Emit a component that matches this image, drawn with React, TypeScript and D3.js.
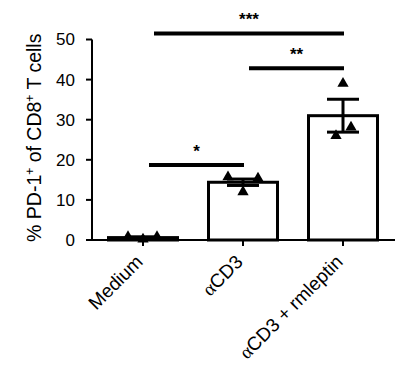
import React from "react";
import * as d3 from "d3";

const categories = ["Medium", "αCD3", "αCD3 + rmleptin"];
const means = [0.6, 14.4, 31.0];
const sems = [0.2, 0.8, 4.1];
const points = [
  [0.8, 0.2, 0.8],
  [15.7, 12.0, 15.4],
  [26.0, 39.0, 28.1],
];
const yTicks = [0, 10, 20, 30, 40, 50];
const brackets = [
  { from: 0, to: 1, y: 18.7, label: "*" },
  { from: 1, to: 2, y: 42.8, label: "**" },
  { from: 0, to: 2, y: 51.5, label: "***" },
];

const W = 408;
const H = 375;
const FONT = "'Liberation Sans', Arial, sans-serif";

export default function App() {
  const y = d3.scaleLinear().domain([0, 50]).range([240, 39.5]);
  const x = d3.scalePoint<number>().domain([0, 1, 2]).range([143, 343]);
  const axisX = 92;
  const axisRight = 395;
  const barW = 69;
  const capHalf = 16;
  const jitter = [
    [-15, 0, 14],
    [-15, 0, 15],
    [-7, 0, 8],
  ];
  const bracketOffsets: Record<string, [number, number]> = {
    "*": [6, 1],
    "**": [6, 1],
    "***": [11, 1],
  };
  const tri = d3.symbol().type(d3.symbolTriangle).size(55)();

  return (
    <svg
      width={W}
      height={H}
      style={{ position: "absolute", left: 0, top: 0, background: "#fff" }}
      fontFamily={FONT}
    >
      {/* bars */}
      {means.map((m, i) => (
        <rect
          key={"b" + i}
          x={x(i)! - barW / 2}
          y={y(m)}
          width={barW}
          height={y(0) - y(m)}
          fill="#fff"
          stroke="#000"
          strokeWidth={3}
        />
      ))}
      {/* error bars */}
      {means.map((m, i) => (
        <g key={"e" + i} stroke="#000" strokeWidth={3}>
          <line x1={x(i)} x2={x(i)} y1={y(m - sems[i])} y2={y(m + sems[i])} />
          <line x1={x(i)! - capHalf} x2={x(i)! + capHalf} y1={y(m + sems[i])} y2={y(m + sems[i])} />
          <line x1={x(i)! - capHalf} x2={x(i)! + capHalf} y1={y(m - sems[i])} y2={y(m - sems[i])} />
        </g>
      ))}
      {/* points */}
      {points.map((arr, i) =>
        arr.map((v, j) => (
          <path
            key={"p" + i + "-" + j}
            d={tri}
            transform={`translate(${x(i)! + jitter[i][j]},${y(v)})`}
            fill="#000"
          />
        ))
      )}
      {/* axes */}
      <line x1={axisX} x2={axisX} y1={y(50)} y2={y(0)} stroke="#000" strokeWidth={2} />
      <line x1={axisX} x2={axisRight} y1={y(0)} y2={y(0)} stroke="#000" strokeWidth={2} />
      {yTicks.map((t) => (
        <g key={"yt" + t}>
          <line x1={axisX - 6} x2={axisX} y1={y(t)} y2={y(t)} stroke="#000" strokeWidth={2} />
          <text
            x={axisX - 17}
            y={y(t)}
            dy="0.35em"
            textAnchor="end"
            fontSize={17}
          >
            {t}
          </text>
        </g>
      ))}
      {categories.map((c, i) => (
        <g key={"xt" + i}>
          <line x1={x(i)} x2={x(i)} y1={y(0)} y2={y(0) + 6} stroke="#000" strokeWidth={2} />
          <text
            transform={`translate(${x(i)! + 1},${y(0) + 23}) rotate(-45)`}
            textAnchor="end"
            fontSize={19}
          >
            {c.startsWith("α") ? (
              <>
                <tspan fontFamily="'Liberation Serif', serif">α</tspan>
                {c.slice(1)}
              </>
            ) : (
              c
            )}
          </text>
        </g>
      ))}
      {/* y label */}
      <text
        transform={`translate(41,${(y(0) + y(50)) / 2 - 2}) rotate(-90)`}
        textAnchor="middle"
        fontSize={19.5}
      >
        % PD-1<tspan fontSize={12} dy={-7}>+</tspan>
        <tspan dy={7}> of CD8</tspan>
        <tspan fontSize={12} dy={-7}>+</tspan>
        <tspan dy={7}> T cells</tspan>
      </text>
      {/* significance brackets */}
      {brackets.map((b, k) => {
        const [o1, o2] = bracketOffsets[b.label];
        const x1 = x(b.from)! + o1;
        const x2 = x(b.to)! + o2;
        return (
          <g key={"s" + k}>
            <line x1={x1} x2={x2} y1={y(b.y)} y2={y(b.y)} stroke="#000" strokeWidth={4} />
            <text
              x={(x1 + x2) / 2}
              y={y(b.y) - 8}
              textAnchor="middle"
              fontSize={17}
              fontWeight="bold"
            >
              {b.label}
            </text>
          </g>
        );
      })}
    </svg>
  );
}
